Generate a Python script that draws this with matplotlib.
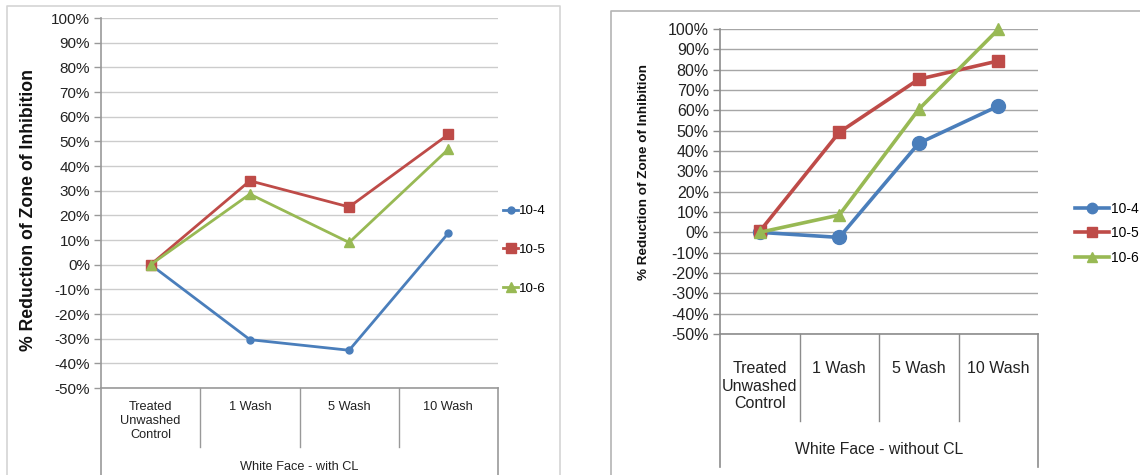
import matplotlib
matplotlib.use("Agg")
import matplotlib.pyplot as plt
from matplotlib.lines import Line2D

plt.rcParams['font.family'] = ['Liberation Sans', 'DejaVu Sans']

W, H = 1140, 475

categories = ["Treated\nUnwashed\nControl", "1 Wash", "5 Wash", "10 Wash"]
series_names = ["10-4", "10-5", "10-6"]
yticks = list(range(-50, 101, 10))

# % reduction, white face with CL
with_cl = {
    "10-4": [0, -30.4, -34.7, 12.8],
    "10-5": [0, 34.0, 23.4, 52.8],
    "10-6": [0, 28.6, 9.0, 46.8],
}
# % reduction, white face without CL
without_cl = {
    "10-4": [0, -2.5, 43.8, 62.1],
    "10-5": [0.5, 49.2, 75.3, 84.3],
    "10-6": [0, 8.5, 60.5, 99.8],
}

colors = {"10-4": "#4A7EBB", "10-5": "#BE4B48", "10-6": "#98B954"}
markers = {"10-4": "o", "10-5": "s", "10-6": "^"}


def px_axes(fig, x0, y0, x1, y1):
    # pixel box (top-left origin) -> figure axes
    return fig.add_axes([x0 / W, (H - y1) / H, (x1 - x0) / W, (y1 - y0) / H])


def fig_line(fig, xs, ys, color, lw=1.0):
    fig.add_artist(Line2D([x / W for x in xs], [(H - y) / H for y in ys],
                          transform=fig.transFigure, color=color, lw=lw))


def draw_chart(ax, data, grid_col, spine_col, tick_fs, cat_fs, group_label, group_fs,
               ms, lw, cat_y, sep_y, outer_y, group_y):
    x = list(range(len(categories)))
    for name in series_names:
        ax.plot(x, data[name], color=colors[name], marker=markers[name],
                markersize=ms[name], lw=lw, label=name, clip_on=False, zorder=3)
    ax.set_xlim(-0.5, len(categories) - 0.5)
    ax.set_ylim(-50, 100)
    ax.set_yticks(yticks)
    ax.set_yticklabels([f"{v}%" for v in yticks], fontsize=tick_fs, color="#222222")
    ax.yaxis.grid(True, color=grid_col, lw=1.0)
    ax.set_axisbelow(True)
    ax.set_xticks([])
    for s in ["top", "right"]:
        ax.spines[s].set_visible(False)
    for s in ["left", "bottom"]:
        ax.spines[s].set_color(spine_col)
        ax.spines[s].set_linewidth(1.2)
    ax.tick_params(axis="y", length=5, color=spine_col, width=1.0, pad=3)

    tr = ax.get_xaxis_transform()
    for i, c in enumerate(categories):
        ax.text(i, cat_y, c, transform=tr, ha="center", va="top", fontsize=cat_fs,
                color="#222222", linespacing=1.2)
    for b in [0.5, 1.5, 2.5]:
        ax.plot([b, b], [0, sep_y], transform=tr, color=spine_col, lw=1.0, clip_on=False)
    for b in [-0.5, 3.5]:
        ax.plot([b, b], [0, outer_y], transform=tr, color=spine_col, lw=1.2, clip_on=False)
    ax.text(1.5, group_y, group_label, transform=tr, ha="center", va="center",
            fontsize=group_fs, color="#222222")


fig = plt.figure(figsize=(W / 100, H / 100), dpi=100)

# outer chart frames
fig_line(fig, [7, 7, 560, 560], [475, 6, 6, 475], "#d4d4d4", 1.2)
fig_line(fig, [611, 611, 1140], [475, 11, 11], "#b4b4b4", 1.2)

# left chart
ax1 = px_axes(fig, 101, 18, 498, 388)
draw_chart(ax1, with_cl, "#cccccc", "#999999", 11, 9.2, "White Face - with CL", 9.2,
           {"10-4": 5, "10-5": 7, "10-6": 7.5}, 2.0,
           cat_y=-0.035, sep_y=-0.16, outer_y=-0.25, group_y=-0.214)
fig.text(29 / W, (H - 210) / H, "% Reduction of Zone of Inhibition", rotation=90,
         ha="center", va="center", fontsize=12.7, fontweight="bold", color="#111111")
ax1.legend(loc="center left", bbox_to_anchor=(1.0, 0.373), frameon=False,
           fontsize=9.5, handlelength=1.1, handletextpad=0.1, labelspacing=2.0,
           borderaxespad=0.0, markerscale=1.0)

# right chart
ax2 = px_axes(fig, 720, 29, 1038, 334)
draw_chart(ax2, without_cl, "#a6a6a6", "#8c8c8c", 11.5, 11.5, "White Face - without CL", 11.3,
           {"10-4": 10, "10-5": 9, "10-6": 9}, 2.6,
           cat_y=-0.09, sep_y=-0.285, outer_y=-0.436, group_y=-0.38)
fig.text(644 / W, (H - 172) / H, "% Reduction of Zone of Inhibition", rotation=90,
         ha="center", va="center", fontsize=9.7, fontweight="bold", color="#111111")
ax2.legend(loc="center left", bbox_to_anchor=(1.1, 0.33), frameon=False,
           fontsize=10, handlelength=2.4, handletextpad=0.2, labelspacing=0.75,
           borderaxespad=0.0, markerscale=0.75)

fig.savefig("out.png", dpi=100, facecolor="white")
